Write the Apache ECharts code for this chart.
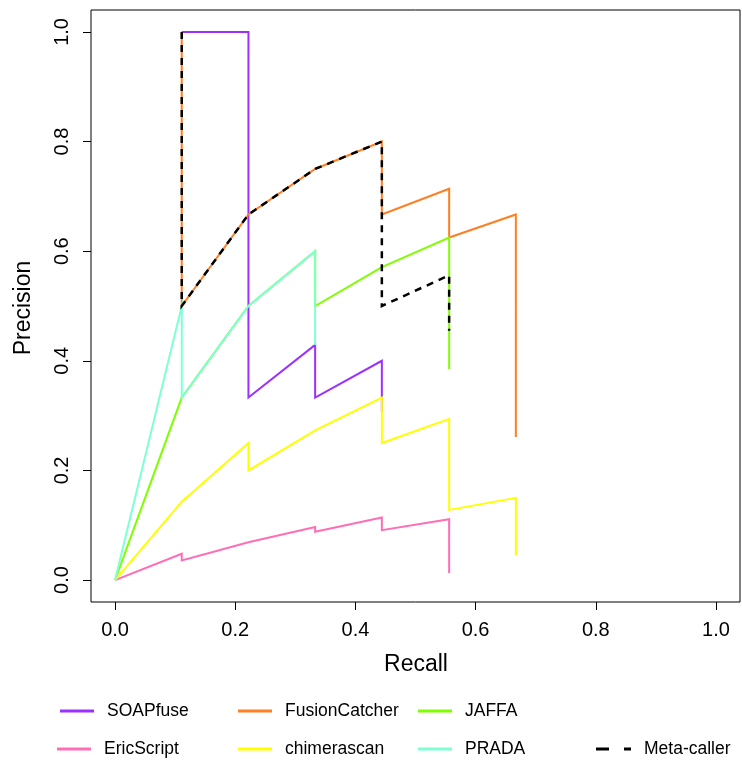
<!DOCTYPE html>
<html>
<head>
<meta charset="utf-8">
<script src="https://cdn.jsdelivr.net/npm/echarts@6/dist/echarts.min.js"></script>
<style>
  html, body { margin: 0; padding: 0; background: #fff; }
  #chart { width: 742px; height: 763px; }
</style>
</head>
<body>
<div id="chart"></div>
<script>
// Precision-recall curves of fusion callers
const tickValues = [0.0, 0.2, 0.4, 0.6, 0.8, 1.0];

const soapfuseRecall = [0.111, 0.222, 0.222, 0.333, 0.333, 0.444, 0.444];
const soapfusePrecision = [1.0, 1.0, 0.333, 0.429, 0.333, 0.400, 0.307];

const fusionCatcherRecall = [0.111, 0.111, 0.222, 0.333, 0.444, 0.444, 0.556, 0.556, 0.667, 0.667];
const fusionCatcherPrecision = [1.0, 0.5, 0.667, 0.75, 0.8, 0.667, 0.714, 0.625, 0.667, 0.261];

const jaffaRecall = [0.0, 0.111, 0.222, 0.333, 0.333, 0.444, 0.556, 0.556];
const jaffaPrecision = [0.0, 0.333, 0.5, 0.6, 0.5, 0.571, 0.625, 0.385];

const ericScriptRecall = [0.0, 0.111, 0.111, 0.222, 0.222, 0.333, 0.333, 0.444, 0.444, 0.556, 0.556];
const ericScriptPrecision = [0.0, 0.048, 0.036, 0.069, 0.067, 0.097, 0.088, 0.114, 0.091, 0.111, 0.013];

const chimerascanRecall = [0.0, 0.111, 0.222, 0.222, 0.333, 0.444, 0.444, 0.556, 0.556, 0.667, 0.667];
const chimerascanPrecision = [0.0, 0.143, 0.25, 0.2, 0.273, 0.333, 0.25, 0.294, 0.128, 0.15, 0.045];

const pradaRecall = [0.0, 0.111, 0.111, 0.222, 0.333, 0.333];
const pradaPrecision = [0.0, 0.5, 0.333, 0.5, 0.6, 0.429];

const metaCallerRecall = [0.111, 0.111, 0.222, 0.333, 0.444, 0.444, 0.556, 0.556];
const metaCallerPrecision = [1.0, 0.5, 0.667, 0.75, 0.8, 0.5, 0.556, 0.455];

const seriesNames = ['SOAPfuse', 'FusionCatcher', 'JAFFA', 'EricScript', 'chimerascan', 'PRADA', 'Meta-caller'];
const seriesColors = ['#9B30FF', '#FF7F24', '#7FFF00', '#FF6EB4', '#FFFF00', '#7FFFD4', '#000000'];
const seriesRecall = [soapfuseRecall, fusionCatcherRecall, jaffaRecall, ericScriptRecall, chimerascanRecall, pradaRecall, metaCallerRecall];
const seriesPrecision = [soapfusePrecision, fusionCatcherPrecision, jaffaPrecision, ericScriptPrecision, chimerascanPrecision, pradaPrecision, metaCallerPrecision];

const FONT = '"Liberation Sans", Arial, Helvetica, sans-serif';

const series = seriesNames.map((name, i) => {
  const dashed = name === 'Meta-caller';
  return {
    name: name,
    type: 'line',
    data: seriesRecall[i].map((r, j) => [r, seriesPrecision[i][j]]),
    showSymbol: false,
    symbol: 'none',
    animation: false,
    z: 2 + i,
    lineStyle: {
      color: seriesColors[i],
      width: dashed ? 2.5 : 2,
      type: dashed ? [7, 6] : 'solid',
      cap: 'butt',
      join: 'miter'
    },
    itemStyle: { color: seriesColors[i] }
  };
});

// legend placement: two rows, four columns
const legendSlots = {
  'SOAPfuse':      { left: 60,  top: 702 },
  'FusionCatcher': { left: 238, top: 702 },
  'JAFFA':         { left: 418, top: 702 },
  'EricScript':    { left: 57,  top: 740 },
  'chimerascan':   { left: 238, top: 740 },
  'PRADA':         { left: 418, top: 740 },
  'Meta-caller':   { left: 596, top: 740 }
};

const solidKey = 'path://M0,0h34v3h-34z';
const dashedKey = 'path://M0,0h13v3h-13z M28,0h7v3h-7z';

const legends = seriesNames.map((name, i) => ({
  data: [{ name: name, icon: name === 'Meta-caller' ? dashedKey : solidKey }],
  left: legendSlots[name].left,
  top: legendSlots[name].top,
  padding: 0,
  itemWidth: name === 'Meta-caller' ? 35 : 34,
  itemHeight: 3,
  selectedMode: false,
  itemStyle: { color: seriesColors[i], borderWidth: 0 },
  textStyle: {
    fontFamily: FONT,
    fontSize: 17.5,
    color: '#000',
    padding: [0, 0, 0, 8]
  }
}));

const chart = echarts.init(document.getElementById('chart'), null, { renderer: 'canvas' });
chart.setOption({
  backgroundColor: '#fff',
  animation: false,
  grid: {
    left: 91, top: 10, width: 649, height: 592,
    show: true, borderColor: '#000', borderWidth: 1, backgroundColor: 'transparent'
  },
  legend: legends,
  xAxis: {
    type: 'value',
    min: -0.04, max: 1.04,
    axisLine: { show: false, onZero: false },
    splitLine: { show: false },
    axisTick: { show: true, inside: false, customValues: tickValues, length: 8, lineStyle: { color: '#000', width: 1 } },
    axisLabel: {
      customValues: tickValues,
      formatter: v => v.toFixed(1),
      fontFamily: FONT, fontSize: 20, color: '#000', margin: 18
    }
  },
  yAxis: {
    type: 'value',
    min: -0.04, max: 1.04,
    axisLine: { show: false, onZero: false },
    splitLine: { show: false },
    axisTick: { show: true, inside: false, customValues: tickValues, length: 8, lineStyle: { color: '#000', width: 1 } },
    axisLabel: {
      customValues: tickValues,
      formatter: v => v.toFixed(1),
      rotate: 90,
      fontFamily: FONT, fontSize: 20, color: '#000', margin: 19
    }
  },
  graphic: [
    {
      type: 'text', x: 416, y: 665,
      style: { text: 'Recall', font: '23px ' + FONT, fill: '#000', align: 'center', verticalAlign: 'middle' }
    },
    {
      type: 'text', x: 24, y: 308, rotation: Math.PI / 2,
      style: { text: 'Precision', font: '23px ' + FONT, fill: '#000', align: 'center', verticalAlign: 'middle' }
    }
  ],
  series: series
});
</script>
</body>
</html>
